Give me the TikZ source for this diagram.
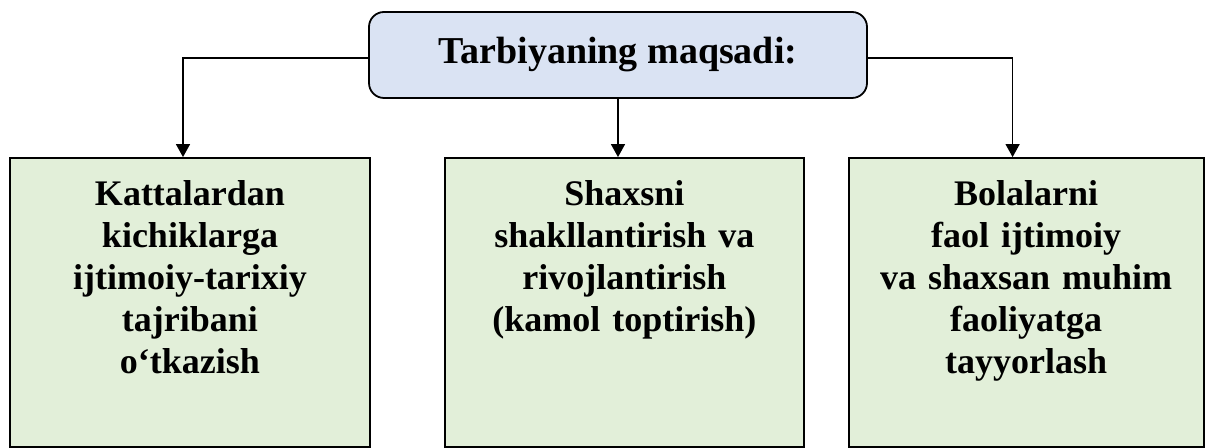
\documentclass[tikz,border=0pt]{standalone}
\usepackage{fontspec}
\setmainfont{Liberation Serif}
\usetikzlibrary{arrows.meta,positioning}
\definecolor{goalblue}{HTML}{DAE3F3}
\definecolor{aimgreen}{HTML}{E2EFD9}

\begin{document}
\begin{tikzpicture}[x=1pt,y=1pt,
    goal/.style={
      rectangle,
      rounded corners=7.5pt,
      draw,
      line width=0.9pt,
      fill=goalblue,
      minimum width=249pt,
      minimum height=43pt,
      font=\fontsize{19}{22}\selectfont\bfseries
    },
    aim/.style={
      rectangle,
      draw,
      line width=0.9pt,
      fill=aimgreen,
      inner sep=0pt,
      text width=#1,
      minimum width=#1,
      align=center,
      text height=24pt,
      text depth=120.5pt,
      font=\fontsize{18}{21}\selectfont\bfseries
    },
    >={Triangle[width=7pt,length=6.5pt]},
    link/.style={->, line width=0.7pt}
  ]
  \useasboundingbox (0,0) rectangle (602.5,224);

  \node[goal] at (309,196.5) (T) {Tarbiyaning maqsadi:};

  \node[aim=180pt] at (95,72.75) (A) {Kattalardan\\kichiklarga\\ijtimoiy-tarixiy\\tajribani\\o‘tkazish};
  \node[aim=179.5pt,right=36.5pt of A] (B) {Shaxsni\\shakllantirish va\\rivojlantirish\\(kamol toptirish)};
  \node[aim=177.5pt,right=21.5pt of B] (C) {Bolalarni\\faol ijtimoiy\\va shaxsan muhim\\faoliyatga\\tayyorlash};

  \draw[link] ([yshift=-1.5pt]T.west) -| ([xshift=-3.5pt]A.north);
  \draw[link] (T.south) -- (T.south |- B.north);
  \draw[link] ([yshift=-1.5pt]T.east) -| ([xshift=-6.75pt]C.north);
\end{tikzpicture}
\end{document}
